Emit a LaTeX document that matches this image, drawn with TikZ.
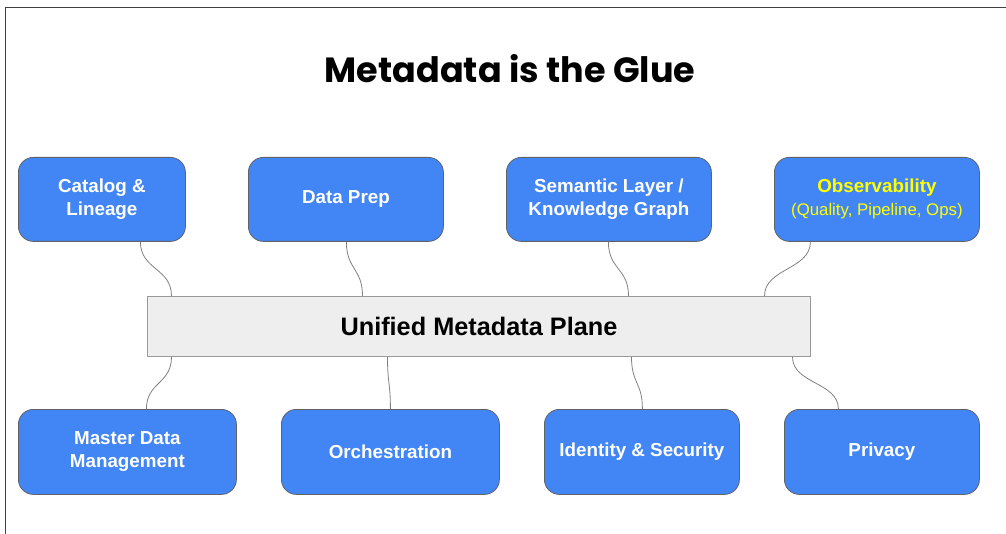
\documentclass[tikz,border=0pt]{standalone}
\usepackage{fontspec}
\setmainfont{Liberation Sans}
\newfontfamily\titlefont{Poppins}
\definecolor{gblue}{HTML}{4285F4}
\definecolor{boxedge}{HTML}{5F6368}
\definecolor{planefill}{HTML}{EEEEEE}
\definecolor{planeedge}{HTML}{999999}
\definecolor{wire}{HTML}{808080}
\definecolor{hilite}{HTML}{FFFF00}
\tikzset{
  tool/.style={draw=boxedge, line width=0.8pt, fill=gblue, rounded corners=15pt,
    text=white, font=\fontsize{18.8}{23}\selectfont\bfseries, align=center,
    inner sep=0pt, anchor=north west},
  plane/.style={draw=planeedge, line width=1pt, fill=planefill, inner sep=0pt,
    anchor=north west, font=\fontsize{25.3}{30}\selectfont\bfseries},
  link/.style={draw=wire, line width=0.8pt}
}
\begin{document}
\begin{tikzpicture}[x=1pt,y=-1pt]
\useasboundingbox (0,0) rectangle (1006,534);
% frame edges
\draw[line width=1.2pt, draw=black!75] (5.5,534) -- (5.5,7.5) -- (1006,7.5);

\node[font=\titlefont\fontsize{35}{40}\selectfont\bfseries] (title) at (510,69) {Metadata is the Glue};

% top row
\node[tool, minimum width=167pt, minimum height=84pt] (catalog) at (18,157) {Catalog \&\\Lineage};
\node[tool, minimum width=195pt, minimum height=84pt] (prep) at (248,157) {Data Prep};
\node[tool, minimum width=205pt, minimum height=84pt] (semantic) at (506,157) {Semantic Layer /\\Knowledge Graph};
\node[tool, minimum width=205pt, minimum height=84pt, text=hilite] (observ) at (774,157)
  {Observability\\{\fontsize{16.8}{23}\selectfont\mdseries (Quality, Pipeline, Ops)}};

% central plane
\node[plane, minimum width=663pt, minimum height=60pt] (uplane) at (147,296) {Unified Metadata Plane};

% bottom row
\node[tool, minimum width=218pt, minimum height=85pt] (mdm) at (18,409) {Master Data\\Management};
\node[tool, minimum width=218pt, minimum height=85pt] (orch) at (281,409) {Orchestration};
\node[tool, minimum width=195pt, minimum height=85pt] (ident) at (544,409) {Identity \& Security};
\node[tool, minimum width=195pt, minimum height=85pt] (priv) at (784,409) {Privacy};

% connector end points on the box edges
\coordinate (c1) at ([xshift=38.5pt]catalog.south);
\coordinate (p1) at ([xshift=-307.5pt]uplane.north);
\coordinate (c2) at ([xshift=0.5pt]prep.south);
\coordinate (p2) at ([xshift=-116.5pt]uplane.north);
\coordinate (c3) at ([xshift=-0.5pt]semantic.south);
\coordinate (p3) at ([xshift=149.5pt]uplane.north);
\coordinate (c4) at ([xshift=-66.5pt]observ.south);
\coordinate (p4) at ([xshift=285.5pt]uplane.north);
\coordinate (q1) at ([xshift=-307.5pt]uplane.south);
\coordinate (b1) at ([xshift=19pt]mdm.north);
\coordinate (q2) at ([xshift=-91.5pt]uplane.south);
\coordinate (b2) at (orch.north);
\coordinate (q3) at ([xshift=152.5pt]uplane.south);
\coordinate (b3) at ([xshift=0.5pt]ident.north);
\coordinate (q4) at ([xshift=313.5pt]uplane.south);
\coordinate (b4) at ([xshift=-43.5pt]priv.north);

% curved links
\draw[link] (c1) .. controls +(0,28) and +(0,-28) .. (p1);
\draw[link] (c2) .. controls +(0,28) and +(0,-28) .. (p2);
\draw[link] (c3) .. controls +(0,28) and +(0,-28) .. (p3);
\draw[link] (c4) .. controls +(0,28) and +(0,-28) .. (p4);
\draw[link] (q1) .. controls +(0,27) and +(0,-27) .. (b1);
\draw[link] (q2) .. controls +(0,27) and +(0,-27) .. (b2);
\draw[link] (q3) .. controls +(0,27) and +(0,-27) .. (b3);
\draw[link] (q4) .. controls +(0,27) and +(0,-27) .. (b4);
\end{tikzpicture}
\end{document}
